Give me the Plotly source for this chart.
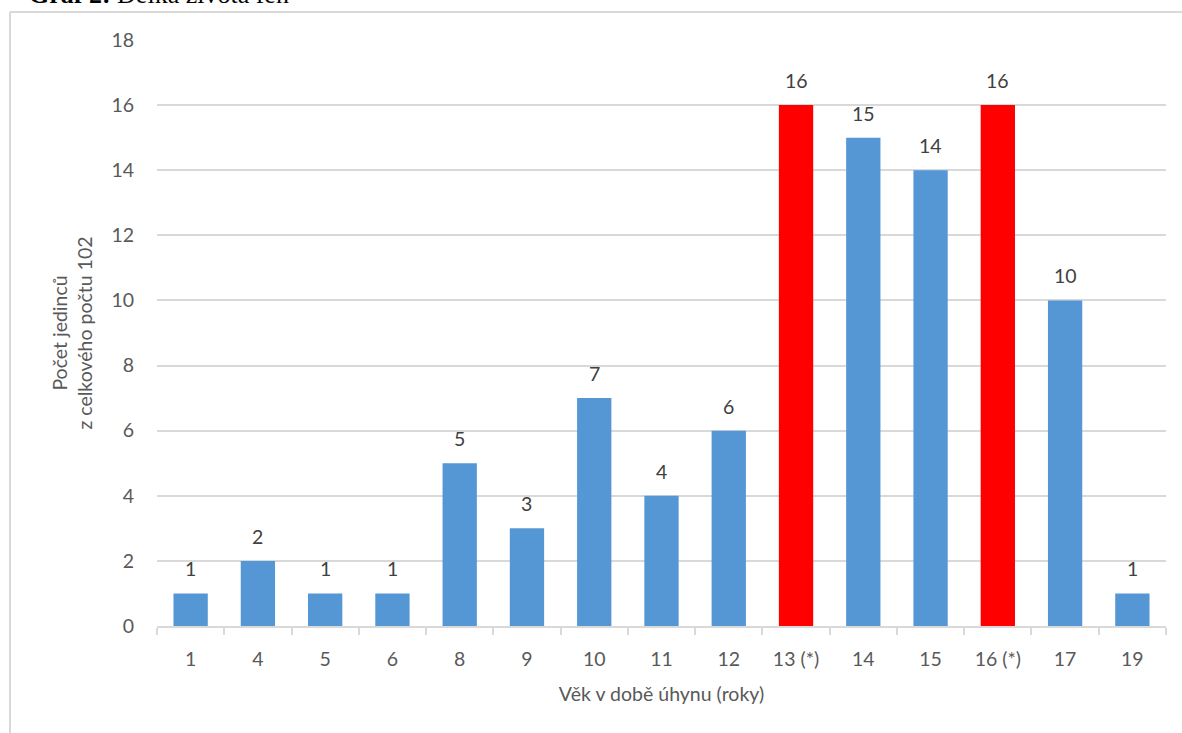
import plotly.graph_objects as go

# Age at death (years) and number of individuals
ages = ["1", "4", "5", "6", "8", "9", "10", "11", "12", "13 (*)", "14", "15", "16 (*)", "17", "19"]
counts = [1, 2, 1, 1, 5, 3, 7, 4, 6, 16, 15, 14, 16, 10, 1]
highlighted = ["13 (*)", "16 (*)"]

y_ticks = [0, 2, 4, 6, 8, 10, 12, 14, 16, 18]

BLUE = "#5597d5"
RED = "#ff0000"
TEXT = "#404040"
TICK = "#595959"
GRID = "#d9d9d9"
FONT = "Lato, Open Sans, sans-serif"
FS = 19.5

colors = [RED if a in highlighted else BLUE for a in ages]

fig = go.Figure()
fig.add_trace(go.Bar(
    x=ages,
    y=counts,
    marker=dict(color=colors, line=dict(width=0)),
    hoverinfo="x+y",
))

# value labels above each bar (category axis: position by category index)
for i, c in enumerate(counts):
    fig.add_annotation(
        x=i, y=c, text=str(c), showarrow=False,
        yanchor="bottom", yshift=11,
        font=dict(family=FONT, size=FS, color=TEXT),
    )

W, H = 1182, 733
L, R, T, B = 157, 16, 40, 107
pw, ph = W - L - R, H - T - B

def px_x(p):
    return (p - L) / pw

def px_y(p):
    return (H - B - p) / ph

# outer frame (left and top edges visible)
fig.add_shape(type="line", xref="paper", yref="paper",
              x0=px_x(10), x1=px_x(1250), y0=px_y(12), y1=px_y(12),
              line=dict(color=GRID, width=2))
fig.add_shape(type="line", xref="paper", yref="paper",
              x0=px_x(10), x1=px_x(10), y0=px_y(12), y1=px_y(760),
              line=dict(color=GRID, width=2))

# caption above the frame
fig.add_annotation(
    xref="paper", yref="paper", x=px_x(27), y=px_y(5),
    xanchor="left", yanchor="bottom", yshift=-6, showarrow=False,
    text="<b>Graf 2:</b> Délka života fen",
    font=dict(family="Liberation Serif, Times New Roman, serif", size=26, color="#000000"),
)

fig.update_layout(
    width=W, height=H,
    margin=dict(l=L, r=R, t=T, b=B),
    paper_bgcolor="white",
    plot_bgcolor="white",
    bargap=0.49,
    showlegend=False,
    font=dict(family=FONT, size=FS, color=TICK),
    xaxis=dict(
        type="category",
        range=[-0.5, len(ages) - 0.5],
        tickangle=0,
        tickson="boundaries",
        ticks="outside", ticklen=7, tickcolor=GRID, tickwidth=2,
        showline=True, linecolor=GRID, linewidth=2,
        showgrid=False,
        tickfont=dict(family=FONT, size=FS, color=TICK),
        ticklabelstandoff=15,
        title=dict(text="Věk v době úhynu (roky)", standoff=18,
                   font=dict(family=FONT, size=FS, color=TICK)),
    ),
    yaxis=dict(
        range=[0, 18],
        tickvals=y_ticks,
        showgrid=True, gridcolor=GRID, gridwidth=1.5,
        zeroline=False, showline=False,
        tickfont=dict(family=FONT, size=FS, color=TICK),
        ticklabelstandoff=22,
        title=dict(text="Počet jedinců<br>z celkového počtu 102", standoff=13,
                   font=dict(family=FONT, size=FS, color=TICK)),
    ),
)

fig.write_html("out.html")
